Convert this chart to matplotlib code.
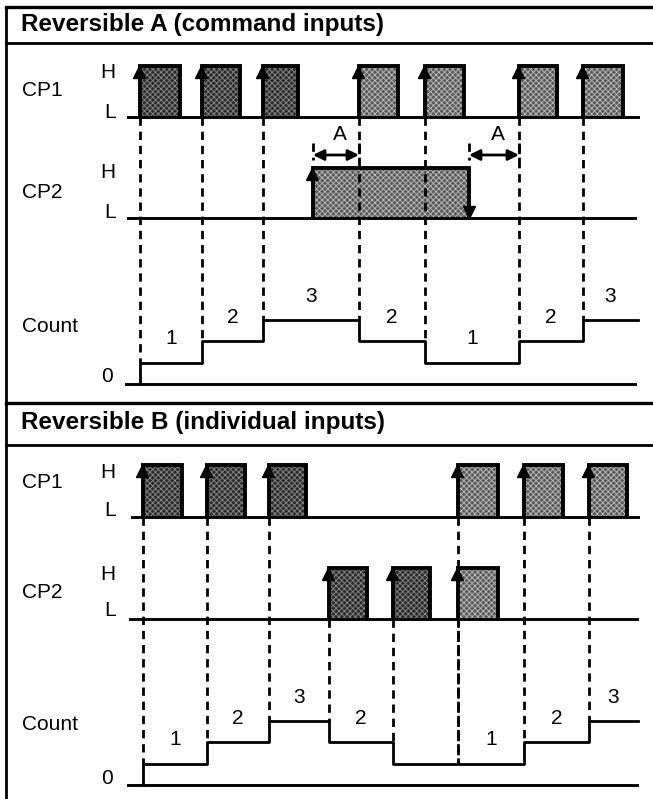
import numpy as np
import matplotlib
matplotlib.use("Agg")
import matplotlib.pyplot as plt
from matplotlib.patches import Rectangle

plt.rcParams['font.family'] = ['Liberation Sans', 'DejaVu Sans']
plt.rcParams['hatch.linewidth'] = 0.6
plt.rcParams['lines.scale_dashes'] = False

# --- data (time axis in drawing units) ---
# Reversible A (command inputs)
a_cp1_rise = [140, 202, 263, 359, 425, 519, 583]
a_cp1_fall = [180, 240, 298, 398, 464, 557, 623]
a_cp2_rise = [313]
a_cp2_fall = [469]
a_count_t = [140, 202, 263, 359, 425, 519, 583]
a_count_v = [1, 2, 3, 2, 1, 2, 3]
a_count_lbl = ['1', '2', '3', '2', '1', '2', '3']
a_dim = [(313, 359), (469, 519)]  # "A" spans

# Reversible B (individual inputs)
b_cp1_rise = [143, 207, 269, 458, 524, 589]
b_cp1_fall = [182, 245, 306, 498, 563, 627]
b_cp2_rise = [329, 393, 458]
b_cp2_fall = [367, 430, 498]
b_count_t = [143, 207, 269, 329, 393, 458, 524, 589]
b_count_v = [1, 2, 3, 2, 1, 1, 2, 3]
b_count_lbl = ['1', '2', '3', '2', '', '1', '2', '3']

W, H = 653, 799
fig = plt.figure(figsize=(W / 100, H / 100), dpi=100)
ax = fig.add_axes([0, 0, 1, 1])
ax.set_xlim(0, W)
ax.set_ylim(H, 0)
ax.axis('off')

STEP = 21.3
DARK = ('#2c2c2c', '#8a8a8a')
LIGHT = ('#5a5a5a', '#bdbdbd')
DASH = (6, 4.2)


def pulses(rise, fall, base, top, x0, x1, shades, down_arrow=False):
    ax.plot([x0, x1], [base, base], color='k', lw=2.1, zorder=4)
    for r, f, (fc, hc) in zip(rise, fall, shades):
        ax.add_patch(Rectangle((r, top), f - r, base - top, facecolor=fc,
                               edgecolor=hc, hatch='xxxxxx', lw=0, zorder=3))
        ax.plot([r, r, f, f], [base, top, top, base], color='k', lw=2.8,
                solid_joinstyle='miter', zorder=5)
        ax.plot(r - 1, top + 6, marker='^', ms=9, color='k', zorder=6)
        if down_arrow:
            ax.plot(f, base - 6, marker='v', ms=9, color='k', zorder=6)


def count(t, v, lbl, base, x0, x1, end):
    ax.plot([x0, x1], [base, base], color='k', lw=2.1, zorder=4)
    y = base - np.array(v) * STEP
    xs = [t[0]] + list(t) + [end]
    ys = [base] + list(y) + [y[-1]]
    ax.step(xs, ys, where='post', color='k', lw=2.0, zorder=4)
    edges = list(t) + [end]
    for i, s in enumerate(lbl):
        if s:
            ax.text((edges[i] + edges[i + 1]) / 2, y[i] - 24, s,
                    ha='center', va='center', fontsize=15)


def dashes(xs, y0, t, v, base, z):
    yl = base - np.array(v) * STEP
    prev = np.concatenate([[base], yl[:-1]])
    for x in xs:
        i = list(t).index(x)
        ax.plot([x, x], [y0, min(yl[i], prev[i])], color='k', lw=2.0,
                dashes=DASH, zorder=z)


def labels(name, y_name, y_h, y_l):
    ax.text(22, y_name, name, ha='left', va='center', fontsize=15)
    ax.text(108, y_h, 'H', ha='center', va='center', fontsize=15)
    ax.text(110, y_l, 'L', ha='center', va='center', fontsize=15)


# frame and headers
ax.plot([6, 6], [7, H], color='k', lw=2.0)
for yy, lw in [(7, 2.4), (43, 2.0), (403, 2.4), (445, 2.0)]:
    ax.plot([6, W], [yy, yy], color='k', lw=lw)
ax.text(21, 25, 'Reversible A (command inputs)', ha='left', va='center',
        fontsize=17.5, fontweight='bold')
ax.text(21, 423, 'Reversible B (individual inputs)', ha='left', va='center',
        fontsize=17.5, fontweight='bold')

# ---- section A ----
labels('CP1', 90, 72, 112)
labels('CP2', 192, 173, 212)
ax.text(22, 327, 'Count', ha='left', va='center', fontsize=15)
ax.text(107, 376, '0', ha='center', va='center', fontsize=15)
pulses(a_cp1_rise, a_cp1_fall, 117, 66, 128, 638, [DARK] * 3 + [LIGHT] * 4)
pulses(a_cp2_rise, a_cp2_fall, 218, 168, 128, 635, [LIGHT], down_arrow=True)
count(a_count_t, a_count_v, a_count_lbl, 384, 126, 635, 638)
dashes(a_cp1_rise, 117, a_count_t, a_count_v, 384, 7)
for (x0, x1) in a_dim:
    for x in (x0, x1):
        ax.plot([x, x], [143, 160], color='k', lw=2.0, dashes=DASH, zorder=7)
    ax.annotate('', xy=(x0, 155), xytext=(x1, 155),
                arrowprops=dict(arrowstyle='<|-|>', color='k', lw=2.0,
                                mutation_scale=16, shrinkA=0, shrinkB=0))
    ax.text((x0 + x1) / 2 + 4, 134, 'A', ha='center', va='center', fontsize=15)

# ---- section B ----
labels('CP1', 483, 473, 510)
labels('CP2', 592, 575, 610)
ax.text(22, 724, 'Count', ha='left', va='center', fontsize=15)
ax.text(107, 778, '0', ha='center', va='center', fontsize=15)
pulses(b_cp1_rise, b_cp1_fall, 517, 465, 132, 638, [DARK] * 3 + [LIGHT] * 3)
pulses(b_cp2_rise, b_cp2_fall, 619, 568, 130, 637, [DARK] * 2 + [LIGHT])
count(b_count_t, b_count_v, b_count_lbl, 785, 128, 637, 638)
dashes(b_cp1_rise, 517, b_count_t, b_count_v, 785, 2)
dashes(b_cp2_rise, 619, b_count_t, b_count_v, 785, 2)

fig.savefig('out.png', dpi=100)
